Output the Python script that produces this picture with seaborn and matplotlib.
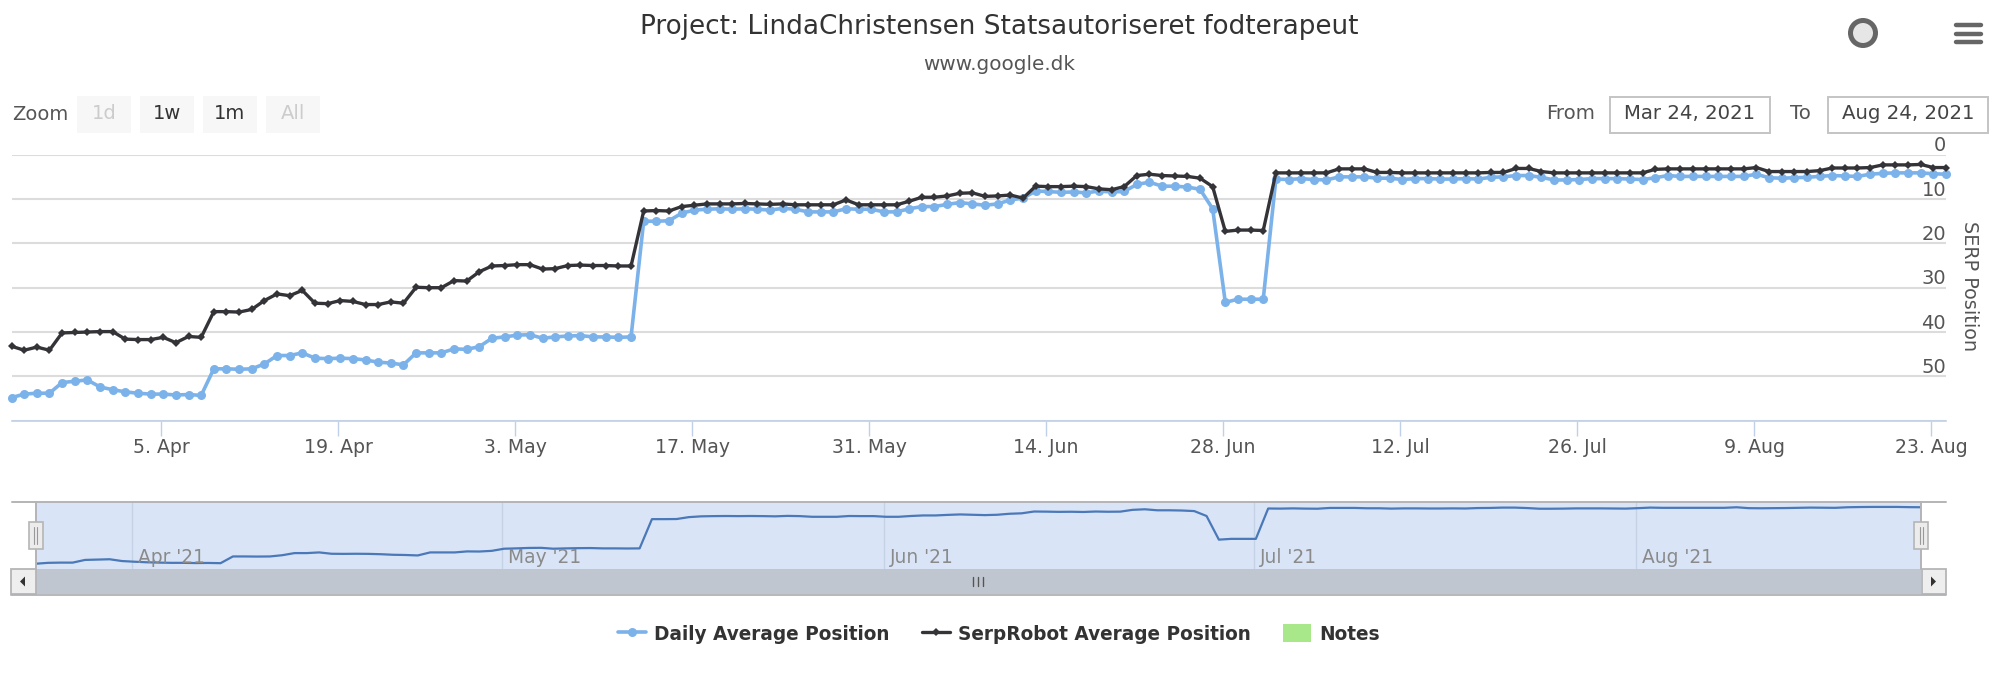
import pandas as pd
import numpy as np
import seaborn as sns
import matplotlib
matplotlib.use("Agg")
import matplotlib.pyplot as plt
from matplotlib.lines import Line2D
from matplotlib.patches import Rectangle, Circle

title = "Project: LindaChristensen Statsautoriseret fodterapeut"
subtitle = "www.google.dk"
start_date = "2021-03-24"
daily_avg = [54.8,54.0,53.8,53.8,51.4,51.1,50.8,52.4,53.0,53.5,53.8,54.0,54.0,54.2,54.1,54.3,
 48.3,48.3,48.4,48.3,47.2,45.3,45.3,44.7,45.9,46.0,45.9,46.0,46.3,46.8,47.0,47.4,44.7,44.7,44.7,43.8,43.9,43.3,
 41.4,41.1,40.7,40.6,41.4,41.1,40.9,40.8,41.1,41.1,41.2,41.1,15.0,15.0,14.9,13.2,12.5,12.3,12.2,12.3,12.2,12.3,
 12.5,12.1,12.3,12.9,12.9,12.9,12.2,12.3,12.3,12.9,12.9,12.2,11.7,11.7,11.2,10.8,11.1,11.4,11.1,10.2,9.8,8.2,8.3,
 8.5,8.4,8.6,8.2,8.4,8.3,6.7,6.2,7.1,7.1,7.3,7.8,12.2,33.3,32.6,32.6,32.6,5.5,5.6,5.4,5.6,5.7,5.0,5.0,5.0,5.3,5.3,
 5.6,5.4,5.4,5.5,5.5,5.4,5.5,5.1,5.0,4.7,4.7,5.1,5.7,5.7,5.6,5.4,5.4,5.4,5.5,5.6,5.2,4.7,4.9,4.9,4.9,4.9,4.9,4.9,
 4.4,5.2,5.3,5.2,5.1,4.9,4.7,4.8,4.9,4.4,4.2,4.1,4.1,4.1,4.3,4.4]
serprobot_avg = [43.2,44.1,43.4,44.1,40.2,40.1,40.0,39.9,39.9,41.6,41.7,41.7,41.2,42.4,41.0,41.2,
 35.4,35.4,35.5,34.9,32.9,31.4,31.8,30.6,33.5,33.6,32.9,33.1,33.8,33.8,33.2,33.5,29.9,30.0,30.0,28.4,28.5,26.4,
 25.1,25.0,24.8,24.8,25.8,25.7,25.0,24.9,25.0,25.0,25.1,25.1,12.7,12.6,12.7,11.7,11.4,11.1,11.1,11.1,11.0,11.1,
 11.2,11.1,11.3,11.3,11.3,11.3,10.2,11.3,11.3,11.3,11.3,10.5,9.6,9.6,9.3,8.7,8.6,9.4,9.3,9.1,9.8,7.1,7.2,7.2,7.1,
 7.2,7.7,7.9,7.2,4.7,4.4,4.7,4.8,4.9,5.3,7.2,17.3,17.0,17.0,17.1,4.1,4.1,4.1,4.1,4.1,3.2,3.2,3.2,4.0,4.0,4.1,4.1,
 4.1,4.1,4.1,4.1,4.1,4.0,4.0,3.1,3.1,3.8,4.1,4.1,4.1,4.1,4.1,4.1,4.1,4.1,3.3,3.2,3.2,3.2,3.2,3.2,3.2,3.2,2.9,3.8,
 3.8,3.8,3.8,3.6,3.0,3.0,3.0,2.9,2.3,2.3,2.3,2.2,2.9,2.9]
series_names = ["Daily Average Position", "SerpRobot Average Position", "Notes"]
week_ticks = ["2021-04-05","2021-04-19","2021-05-03","2021-05-17","2021-05-31","2021-06-14","2021-06-28",
              "2021-07-12","2021-07-26","2021-08-09","2021-08-23"]
week_labels = ["5. Apr","19. Apr","3. May","17. May","31. May","14. Jun","28. Jun","12. Jul","26. Jul","9. Aug","23. Aug"]
month_ticks = ["2021-04-01","2021-05-01","2021-06-01","2021-07-01","2021-08-01"]
month_labels = ["Apr '21","May '21","Jun '21","Jul '21","Aug '21"]
y_ticks = [0,10,20,30,40,50,60]
y_labels = ["0","10","20","30","40","50"]

BLUE, DARK, NAVLINE = "#7cb2ea", "#333338", "#4a78b8"
W, H = 2000, 676
sns.set_theme(style="white")
plt.rcParams["font.family"] = ["DejaVu Sans"]
fig = plt.figure(figsize=(W/100, H/100), dpi=100, facecolor="white")

def axes_px(x0, x1, y0, y1, **kw):
    return fig.add_axes([x0/W, 1-y1/H, (x1-x0)/W, (y1-y0)/H], **kw)

dates = pd.date_range(start_date, periods=len(daily_avg)) + pd.Timedelta(hours=4)
df = pd.DataFrame({"date": dates, "daily": daily_avg, "serp": serprobot_avg})

def overlay(z):
    a = fig.add_axes([0, 0, 1, 1], zorder=z)
    a.set_xlim(0, W); a.set_ylim(H, 0); a.axis("off"); a.patch.set_alpha(0)
    return a

ui = overlay(0)
top = overlay(5)

# main chart
ax = axes_px(11.5, 1946, 154.7, 420.7, zorder=2)
ax.patch.set_alpha(0)
sns.lineplot(data=df, x="date", y="daily", ax=ax, color=BLUE, lw=2.6, marker="o", ms=6.5, mew=0, clip_on=False, legend=False)
sns.lineplot(data=df, x="date", y="serp", ax=ax, color=DARK, lw=2.4, marker="D", ms=3.6, mew=0, clip_on=False, legend=False)
ax.set_xlim(dates[0], dates[0] + pd.Timedelta(days=153))
ax.set_ylim(60, 0)
ax.set_xlabel(""); ax.set_ylabel("")
ax.set_yticks(y_ticks)
ax.set_yticklabels([])
ax.grid(axis="y", color="#dcdcdc", lw=1.5)
ax.grid(axis="x", visible=False)
ax.set_axisbelow(True)
for s in ["top", "left", "right"]:
    ax.spines[s].set_visible(False)
ax.spines["bottom"].set_color("#c0d0e8"); ax.spines["bottom"].set_linewidth(1.2)
ax.spines["bottom"].set_zorder(1)
ax.set_xticks(pd.to_datetime(week_ticks))
ax.set_xticklabels(week_labels, fontsize=13.6, color="#555555")
ax.tick_params(axis="x", length=10.5, width=1, color="#c0d0e8", pad=2, bottom=True)
ax.tick_params(axis="y", length=0)
for v, lab in zip(y_ticks, y_labels):
    ax.annotate(lab, xy=(1, v), xycoords=("axes fraction", "data"), xytext=(0, -0.5), textcoords="offset points",
                ha="right", va="bottom", fontsize=14, color="#555555")
ui.text(1970, 286, "SERP Position", rotation=270, ha="center", va="center", fontsize=13.9, color="#555555")

# navigator
nav = axes_px(35.7, 1921.4, 502, 569, zorder=1)
nav.set_facecolor("#d9e5f6")
sns.lineplot(data=df, x="date", y="daily", ax=nav, color=NAVLINE, lw=1.6, legend=False)
nav.set_xlim(dates[0], dates[0] + pd.Timedelta(days=153))
nav.set_ylim(59.5, -0.3)
nav.set_xlabel(""); nav.set_ylabel("")
nav.set_yticks([])
nav.set_xticks(pd.to_datetime(month_ticks))
nav.set_xticklabels([])
nav.tick_params(axis="x", length=0)
nav.grid(axis="x", color="#c5d2e6", lw=1)
nav.set_axisbelow(True)
for s in nav.spines.values():
    s.set_visible(False)
for d, lab in zip(month_ticks, month_labels):
    nav.annotate(lab, xy=(pd.Timestamp(d), 0), xycoords=("data", "axes fraction"), xytext=(4.5, 1.5),
                 textcoords="offset points", ha="left", va="bottom", fontsize=13.4, color="#8a8a8a")

# title
ui.text(999, 27, title, ha="center", va="center", fontsize=18.9, color="#333333")
ui.text(999, 64, subtitle, ha="center", va="center", fontsize=14.4, color="#555555")

# range selector
ui.text(12, 114, "Zoom", ha="left", va="center", fontsize=14, color="#555555")
for x0, lab, col in [(77, "1d", "#cccccc"), (140, "1w", "#333333"), (203, "1m", "#333333"), (266, "All", "#cccccc")]:
    ui.add_patch(Rectangle((x0, 96), 54, 37, fc="#f7f7f7", ec="none"))
    ui.text(x0 + 27, 113.5, lab, ha="center", va="center", fontsize=14, color=col)
ui.text(1546, 113.5, "From", ha="left", va="center", fontsize=14.2, color="#555555")
ui.text(1790, 113.5, "To", ha="left", va="center", fontsize=14.2, color="#555555")
for x0, lab in [(1610, "Mar 24, 2021"), (1828, "Aug 24, 2021")]:
    ui.add_patch(Rectangle((x0, 97), 160, 36, fc="white", ec="#c4c4c4", lw=1.4))
    ui.text(x0 + 80, 113.5, lab, ha="center", va="center", fontsize=14.2, color="#444444")

# icons
ui.add_patch(Circle((1863, 33), 12.5, fc="#e6e6e6", ec="#666666", lw=3.6))
for yy in [25, 34, 42]:
    ui.plot([1956, 1981], [yy, yy], color="#666666", lw=3.2, solid_capstyle="round")

# navigator frame and scrollbar
ui.add_patch(Rectangle((35.7, 569), 1885.7, 25, fc="#c0c6d0", ec="none"))
ui.plot([10.5, 1946], [594.5, 594.5], color="#b0b2b6", lw=1.3)
for x0, w in [(10.5, 25), (1921.5, 24.5)]:
    ui.add_patch(Rectangle((x0, 569), w, 25, fc="#efeeef", ec="#b5b5b8", lw=1.3))
ui.fill([20, 25, 25], [581.5, 576.5, 586.5], color="#333333", lw=0)
ui.fill([1936, 1931, 1931], [581.5, 576.5, 586.5], color="#333333", lw=0)
for xx in [973, 978, 983]:
    ui.plot([xx, xx], [577, 586], color="#555555", lw=1)
top.plot([12, 1946], [502, 502], color="#b4b4b8", lw=1.4)
top.plot([35.7, 35.7], [502, 569], color="#b4b4b8", lw=1.4)
top.plot([1921.4, 1921.4], [502, 569], color="#b4b4b8", lw=1.4)
for xc in [35.7, 1921.4]:
    top.add_patch(Rectangle((xc - 7, 522), 14, 27, fc="#ececec", ec="#b5b5b5", lw=1.2, zorder=5))
    for dx in [-1.5, 1.5]:
        top.plot([xc + dx, xc + dx], [527, 544], color="#999999", lw=0.8, zorder=6)
top.set_xlim(0, W); top.set_ylim(H, 0)

# legend
h1 = Line2D([], [], color=BLUE, lw=2.6, marker="o", ms=6.5, mew=0)
h2 = Line2D([], [], color=DARK, lw=2.4, marker="D", ms=3.6, mew=0)
h3 = Rectangle((0, 0), 1, 1, fc="#a8e88a", ec="none")
leg = fig.legend([h1, h2, h3], series_names, loc="center", bbox_to_anchor=(999/W, 1-634/H), ncol=3, frameon=False,
                 prop={"weight": "bold", "size": 13.35}, labelcolor="#333333", handlelength=1.5, handleheight=1.1,
                 handletextpad=0.45, columnspacing=1.75)

fig.savefig("out.png", dpi=100, facecolor="white")
